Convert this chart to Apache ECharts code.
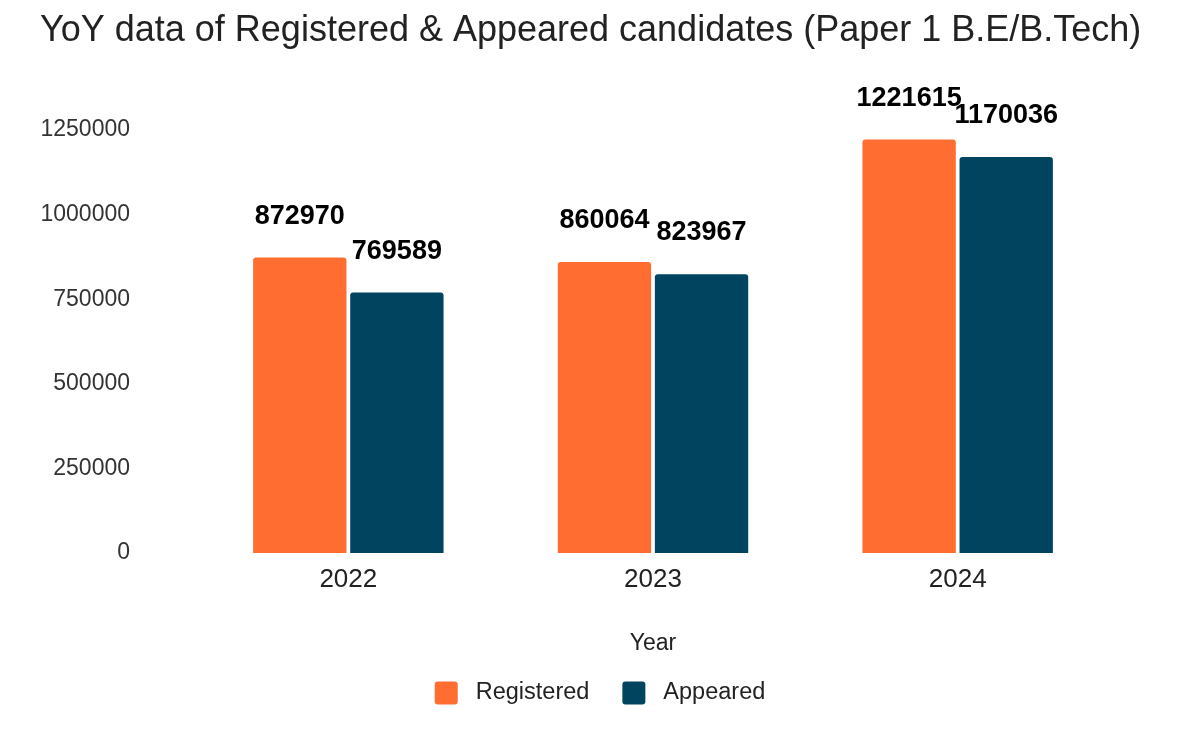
<!DOCTYPE html>
<html>
<head>
<meta charset="utf-8">
<script src="https://cdn.jsdelivr.net/npm/echarts@6/dist/echarts.min.js"></script>
<style>html,body{margin:0;padding:0;background:#fff}#chart{width:1200px;height:742px}</style>
</head>
<body>
<div id="chart"></div>
<script>
const categories = ['2022', '2023', '2024'];
const registered = [872970, 860064, 1221615];
const appeared = [769589, 823967, 1170036];
const seriesNames = ['Registered', 'Appeared'];
const colors = ['#FF6D31', '#01445F'];
const FONT = 'Liberation Sans';

const chart = echarts.init(document.getElementById('chart'));
const labelOpt = {
  show: true, position: 'top', distance: 28,
  color: '#000', fontWeight: 'bold', fontSize: 27, fontFamily: FONT
};
chart.setOption({
  animation: false,
  color: colors,
  textStyle: { fontFamily: FONT },
  title: {
    text: 'YoY data of Registered & Appeared candidates (Paper 1 B.E/B.Tech)',
    left: 35, top: 8,
    textStyle: { fontSize: 36, fontWeight: 'normal', color: '#222', fontFamily: FONT }
  },
  legend: {
    bottom: 32, left: 'center',
    itemWidth: 23, itemHeight: 23, itemGap: 33,
    icon: 'path://M3,0 H20 A3,3 0 0 1 23,3 V20 A3,3 0 0 1 20,23 H3 A3,3 0 0 1 0,20 V3 A3,3 0 0 1 3,0 Z',
    textStyle: { fontSize: 23.5, color: '#222', fontFamily: FONT, padding: [0, 0, 0, 13] },
    data: seriesNames
  },
  grid: { left: 196, right: 90, top: 130, bottom: 189, containLabel: false },
  xAxis: {
    type: 'category', data: categories,
    name: 'Year', nameLocation: 'middle', nameGap: 79,
    nameTextStyle: { fontSize: 23, color: '#222', fontFamily: FONT },
    axisLine: { show: false }, axisTick: { show: false },
    axisLabel: { fontSize: 26, color: '#222', margin: 14, fontFamily: FONT }
  },
  yAxis: {
    type: 'value', min: 0, max: 1250000, interval: 250000,
    axisLine: { show: false }, axisTick: { show: false }, splitLine: { show: false },
    axisLabel: { fontSize: 23, color: '#333', margin: 66, fontFamily: FONT,
      formatter: function (v) { return String(v); } }
  },
  series: [
    { name: seriesNames[0], type: 'bar', data: registered, barGap: '4%', barCategoryGap: '37.5%',
      itemStyle: { borderRadius: [3, 3, 0, 0] }, label: labelOpt },
    { name: seriesNames[1], type: 'bar', data: appeared, barGap: '4%', barCategoryGap: '37.5%',
      itemStyle: { borderRadius: [3, 3, 0, 0] }, label: labelOpt }
  ]
});
</script>
</body>
</html>
